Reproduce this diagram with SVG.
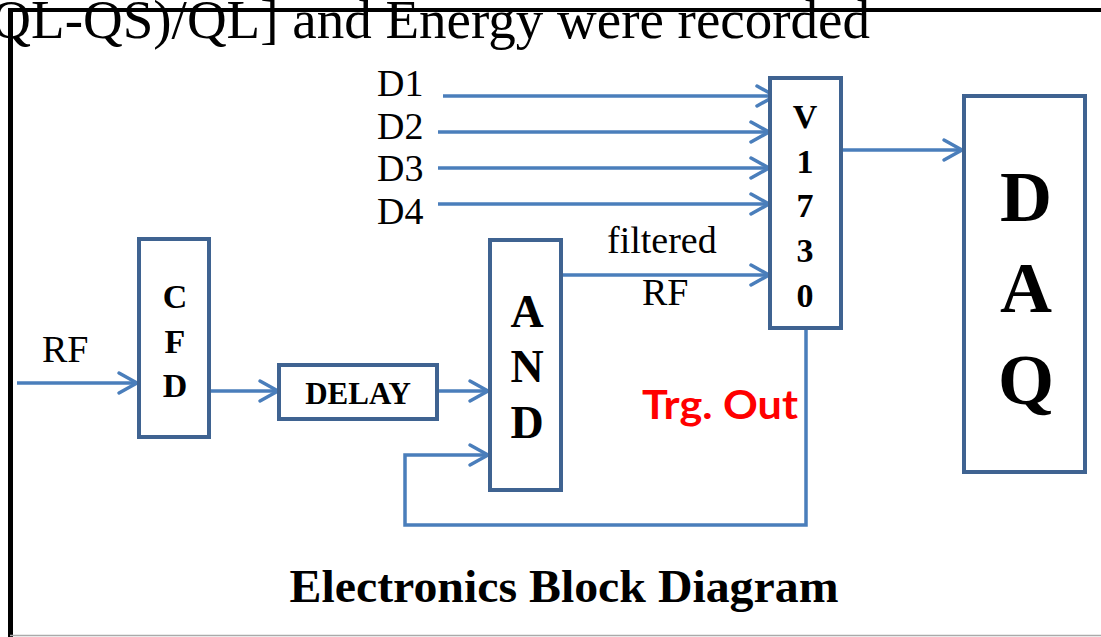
<svg xmlns="http://www.w3.org/2000/svg" width="1101" height="637" viewBox="0 0 1101 637">
<defs>
<style>
.box{fill:#fff;stroke:#3F6391;stroke-width:4}
.wire{fill:none;stroke:#4A7EBB;stroke-width:3.5}
.lbl{font-family:"Liberation Serif","Times New Roman",serif;font-size:38px;fill:#000}
.bld{font-family:"Liberation Serif","Times New Roman",serif;font-weight:bold;fill:#000;text-anchor:middle}
</style>
<marker id="arr" markerUnits="userSpaceOnUse" viewBox="0 0 20 22" refX="19" refY="11" markerWidth="20" markerHeight="22" orient="auto" overflow="visible">
<path d="M1,1 L19,11 L1,21" fill="none" stroke="#4A7EBB" stroke-width="3.5" stroke-linecap="round" stroke-linejoin="round"/>
</marker>
</defs>
<rect width="1101" height="637" fill="#fff"/>
<text x="870" y="38" text-anchor="end" font-family="Liberation Serif,Times New Roman,serif" font-size="55">QL-QS)/QL] and Energy were recorded</text>
<g id="frame">
<line x1="8" y1="10" x2="1101" y2="10" stroke="#000" stroke-width="4"/>
<line x1="10.5" y1="8" x2="10.5" y2="637" stroke="#000" stroke-width="5"/>
<line x1="10" y1="635.5" x2="1101" y2="635.5" stroke="#aaa" stroke-width="1.5"/>
</g>
<g id="connectors">
<line class="wire" x1="17" y1="383" x2="137" y2="383" marker-end="url(#arr)"/>
<line class="wire" x1="210" y1="391" x2="278" y2="391" marker-end="url(#arr)"/>
<line class="wire" x1="438" y1="391" x2="488" y2="391" marker-end="url(#arr)"/>
<polyline class="wire" points="806,329 806,525 405,525 405,455 488,455" marker-end="url(#arr)"/>
<line class="wire" x1="562" y1="275" x2="769" y2="275" marker-end="url(#arr)"/>
<line class="wire" x1="443" y1="96" x2="775" y2="96" marker-end="url(#arr)"/>
<line class="wire" x1="438" y1="132" x2="769" y2="132" marker-end="url(#arr)"/>
<line class="wire" x1="438" y1="168" x2="769" y2="168" marker-end="url(#arr)"/>
<line class="wire" x1="438" y1="204" x2="769" y2="204" marker-end="url(#arr)"/>
<line class="wire" x1="842" y1="150" x2="962" y2="150" marker-end="url(#arr)"/>
<text class="lbl" x="42" y="362">RF</text>
<text class="lbl" x="377" y="96">D1</text>
<text class="lbl" x="377" y="139">D2</text>
<text class="lbl" x="377" y="181">D3</text>
<text class="lbl" x="377" y="224">D4</text>
<text class="lbl" x="607" y="253">filtered</text>
<text class="lbl" x="642" y="305">RF</text>
<text x="642" y="419" font-family="Lato,'Open Sans',sans-serif" font-weight="bold" font-size="40" fill="#FF0000" textLength="156" lengthAdjust="spacingAndGlyphs">Trg. Out</text>
</g>
<g id="cfd">
<rect class="box" x="139" y="239" width="70" height="198"/>
<text class="bld" font-size="34" x="175" y="308">C</text>
<text class="bld" font-size="34" x="175" y="353">F</text>
<text class="bld" font-size="34" x="175" y="397">D</text>
</g>
<g id="delay">
<rect class="box" x="279" y="365" width="158" height="54"/>
<text class="bld" font-size="31" x="358" y="404">DELAY</text>
</g>
<g id="and">
<rect class="box" x="490" y="240" width="71" height="250"/>
<text class="bld" font-size="46" x="527" y="327">A</text>
<text class="bld" font-size="46" x="527" y="382">N</text>
<text class="bld" font-size="46" x="527" y="438">D</text>
</g>
<g id="v1730">
<rect class="box" x="770" y="78" width="71" height="250"/>
<text class="bld" font-size="34" x="805" y="128">V</text>
<text class="bld" font-size="34" x="805" y="173">1</text>
<text class="bld" font-size="34" x="805" y="217">7</text>
<text class="bld" font-size="34" x="805" y="262">3</text>
<text class="bld" font-size="34" x="805" y="307">0</text>
</g>
<g id="daq">
<rect class="box" x="964" y="96" width="121" height="376"/>
<text class="bld" font-size="72" x="1026" y="221">D</text>
<text class="bld" font-size="72" x="1026" y="312">A</text>
<text class="bld" font-size="72" x="1026" y="404">Q</text>
</g>
<text class="bld" font-size="47" x="564" y="602" textLength="549" lengthAdjust="spacingAndGlyphs">Electronics Block Diagram</text>
</svg>
